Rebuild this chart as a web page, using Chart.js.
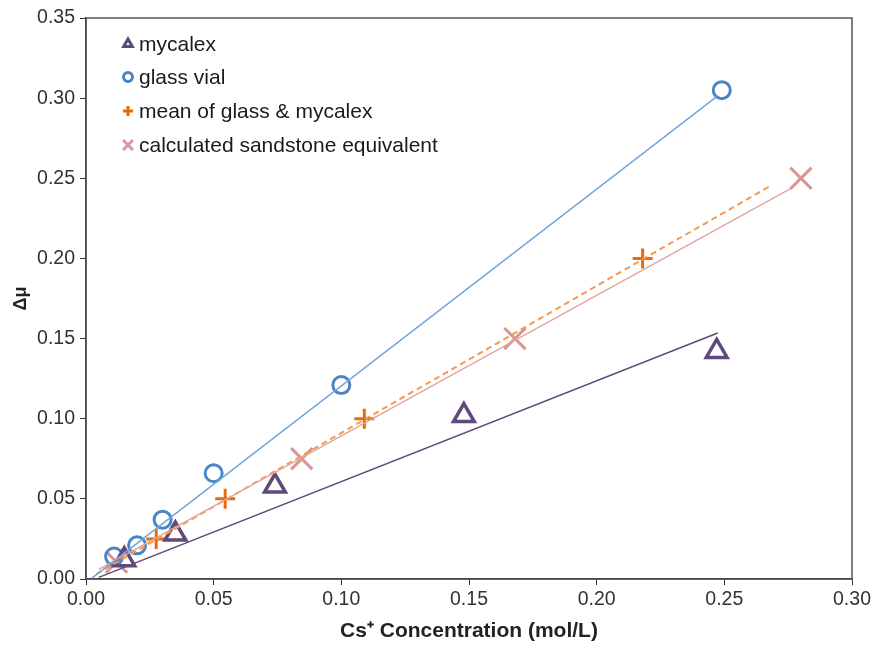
<!DOCTYPE html>
<html>
<head>
<meta charset="utf-8">
<script src="https://cdn.jsdelivr.net/npm/chart.js@4"></script>
<style>
  html, body { margin: 0; padding: 0; background: #fff; }
  #wrap { width: 876px; height: 652px; }
</style>
</head>
<body>
<div id="wrap"><canvas id="myChart"></canvas></div>
<script>
"use strict";

// measured points
const mycalexX = [0.015, 0.035, 0.074, 0.148, 0.247];
const mycalexY = [0.012, 0.028, 0.058, 0.102, 0.142];
const glassX = [0.011, 0.020, 0.030, 0.050, 0.100, 0.249];
const glassY = [0.014, 0.021, 0.037, 0.066, 0.121, 0.305];
const meanX = [0.0275, 0.0545, 0.109, 0.218];
const meanY = [0.025, 0.050, 0.100, 0.200];
const sandX = [0.012, 0.0845, 0.168, 0.280];
const sandY = [0.0105, 0.075, 0.150, 0.250];

// linear trendlines, start and end points
const mycalexFitX = [0.005, 0.2474];
const mycalexFitY = [0.001, 0.1535];
const glassFitX = [0.0023, 0.247];
const glassFitY = [0.0006, 0.301];
const meanFitX = [0.004, 0.2677];
const meanFitY = [0.003, 0.245];
const sandFitX = [0.005, 0.277];
const sandFitY = [0.006, 0.2445];

const xTicks = [0, 0.05, 0.1, 0.15, 0.2, 0.25, 0.3];
const yTicks = [0, 0.05, 0.1, 0.15, 0.2, 0.25, 0.3, 0.35];

const legendLabels = [
  "mycalex",
  "glass vial",
  "mean of glass & mycalex",
  "calculated sandstone equivalent",
];

const purple = "#5f4a7b";
const blue = "#4a85c6";
const blueLine = "#72a6dc";
const orange = "#e46c0a";
const orangeLine = "#f49a4c";
const pink = "#d99694";
const pinkLine = "#e5a6a2";

const FONT = "'Liberation Sans', Arial, sans-serif";

const toPoints = (xs, ys) => xs.map((x, i) => ({ x, y: ys[i] }));

const fitLine = (xs, ys, color, dash) => ({
  type: "line",
  data: toPoints(xs, ys),
  borderColor: color,
  borderWidth: dash ? 2 : 1.5,
  borderDash: dash || [],
  pointRadius: 0,
  fill: false,
  showLine: true,
});

const markers = (xs, ys, style, radius, color, width) => ({
  type: "scatter",
  data: toPoints(xs, ys),
  pointStyle: style,
  pointRadius: radius,
  pointHoverRadius: radius,
  pointBorderWidth: width,
  pointBorderColor: color,
  pointBackgroundColor: "rgba(0,0,0,0)",
  borderColor: color,
  showLine: false,
});

const legendMarks = [
  { pointStyle: "triangle", radius: 5, lineWidth: 3, color: purple },
  { pointStyle: "circle", radius: 4.5, lineWidth: 3, color: blue },
  { pointStyle: "cross", radius: 5, lineWidth: 3, color: orange },
  { pointStyle: "crossRot", radius: 7, lineWidth: 3, color: pink },
];

// legend drawn inside the plot, top left
const insideLegend = {
  id: "insideLegend",
  afterDraw(chart) {
    const ctx = chart.ctx;
    const rowsY = [44, 77, 111, 145];
    ctx.save();
    ctx.font = "21px " + FONT;
    ctx.textBaseline = "middle";
    legendLabels.forEach((label, i) => {
      const m = legendMarks[i];
      ctx.strokeStyle = m.color;
      ctx.fillStyle = "rgba(0,0,0,0)";
      ctx.lineWidth = m.lineWidth;
      Chart.helpers.drawPoint(ctx, {
        pointStyle: m.pointStyle,
        radius: m.radius,
        borderWidth: m.lineWidth,
        rotation: 0,
      }, 128, rowsY[i]);
      ctx.fillStyle = "#1a1a1a";
      ctx.fillText(label, 139, rowsY[i] + 1);
    });
    ctx.restore();
  },
};

// box round the plot area
const plotFrame = {
  id: "plotFrame",
  beforeDatasetsDraw(chart) {
    const { left, right, top, bottom } = chart.chartArea;
    const ctx = chart.ctx;
    ctx.save();
    ctx.strokeStyle = "#555555";
    ctx.lineWidth = 1.5;
    ctx.strokeRect(left, top, right - left, bottom - top);
    ctx.restore();
  },
};

const config = {
  data: {
    datasets: [
      fitLine(mycalexFitX, mycalexFitY, purple),
      fitLine(glassFitX, glassFitY, blueLine),
      fitLine(sandFitX, sandFitY, pinkLine),
      fitLine(meanFitX, meanFitY, orangeLine, [6, 4]),
      markers(mycalexX, mycalexY, "triangle", 12, purple, 3.5),
      markers(glassX, glassY, "circle", 8.5, blue, 3),
      markers(meanX, meanY, "cross", 10, orange, 3),
      markers(sandX, sandY, "crossRot", 15, pink, 3),
    ],
  },
  options: {
    responsive: true,
    maintainAspectRatio: false,
    animation: false,
    layout: { padding: { top: 18, right: 24, left: 6, bottom: 4 } },
    scales: {
      x: {
        type: "linear",
        min: 0,
        max: 0.3,
        afterBuildTicks: (axis) => {
          axis.ticks = xTicks.map((v) => ({ value: v }));
        },
        afterFit: (axis) => {
          axis.height = 652 - 579 - 4;
        },
        grid: {
          drawOnChartArea: false,
          drawTicks: true,
          tickLength: 6,
          color: "#333333",
        },
        border: { color: "#222222", width: 1.5 },
        ticks: {
          color: "#333333",
          padding: 3,
          font: { size: 19.5, family: FONT },
          callback: (v) => v.toFixed(2),
        },
        title: {
          display: true,
          text: "Cs\u207a Concentration (mol/L)",
          color: "#222222",
          font: { size: 21, weight: "bold", family: FONT },
          padding: { top: 5 },
        },
      },
      y: {
        type: "linear",
        min: 0,
        max: 0.35,
        afterBuildTicks: (axis) => {
          axis.ticks = yTicks.map((v) => ({ value: v }));
        },
        afterFit: (axis) => {
          axis.width = 86 - 6;
        },
        grid: {
          drawOnChartArea: false,
          drawTicks: true,
          tickLength: 6,
          color: "#333333",
        },
        border: { color: "#222222", width: 1.5 },
        ticks: {
          color: "#333333",
          padding: 5,
          font: { size: 19.5, family: FONT },
          callback: (v) => v.toFixed(2),
        },
        title: {
          display: true,
          text: "\u0394\u03bc",
          color: "#222222",
          font: { size: 18, weight: "bold", family: FONT },
          padding: { bottom: 0 },
        },
      },
    },
    plugins: {
      legend: { display: false },
      tooltip: { enabled: false },
    },
  },
  plugins: [plotFrame, insideLegend],
};

const myChart = new Chart(document.getElementById("myChart"), config);
</script>
</body>
</html>
